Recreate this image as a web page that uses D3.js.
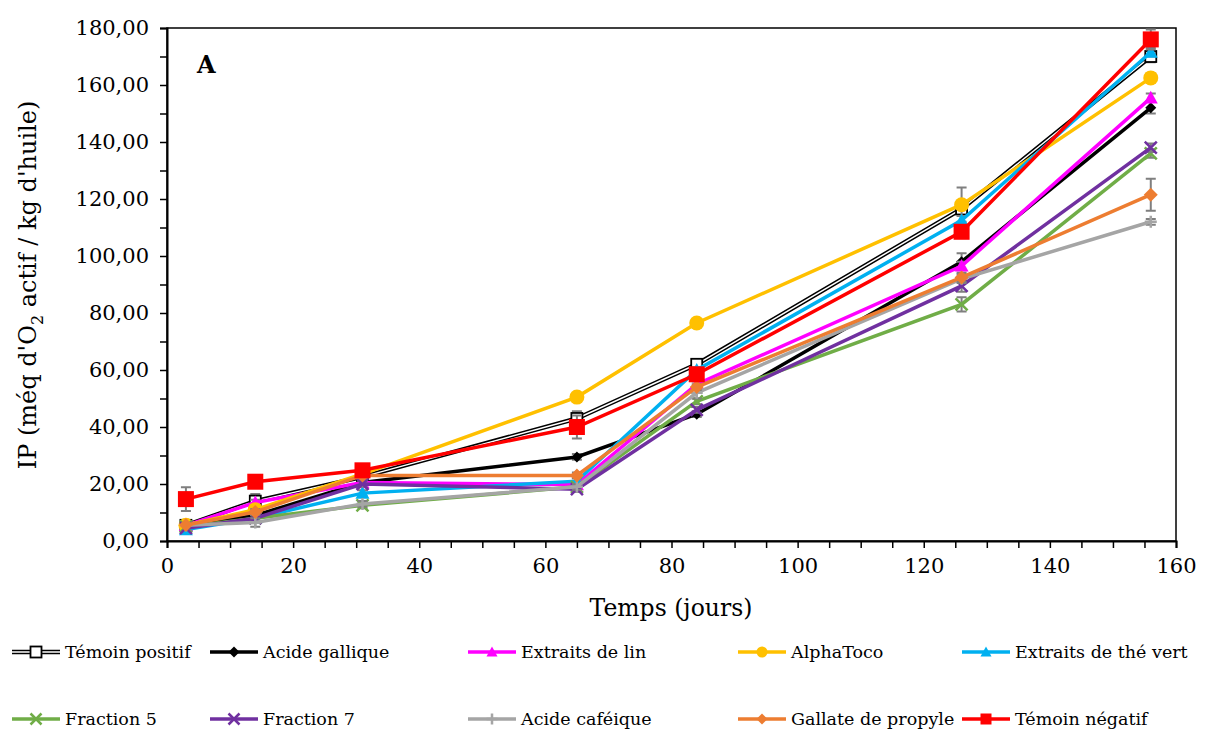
<!DOCTYPE html>
<html><head><meta charset="utf-8">
<script src="https://cdn.jsdelivr.net/npm/d3@7"></script>
<style>body{margin:0;background:#fff}svg{display:block}text{font-family:"DejaVu Serif",serif;fill:#000}</style>
</head><body>
<svg id="c" width="1216" height="731"></svg>
<script>
const days = [3, 14, 31, 65, 84, 126, 156];
const seriesNames = ["Témoin positif","Acide gallique","Extraits de lin","AlphaToco","Extraits de thé vert","Fraction 5","Fraction 7","Acide caféique","Gallate de propyle","Témoin négatif"];
const temoinPositif = [5.5, 14, 22.5, 43, 62, 116.5, 170];
const acideGallique = [5, 9, 20.5, 29.5, 44.5, 98, 152];
const extraitsLin = [5.5, 13.5, 20.5, 19.8, 55, 96.5, 155.5];
const alphaToco = [5.5, 11, 23.5, 50.5, 76.5, 118, 162.5];
const extraitsTheVert = [4, 8, 16.8, 21, 60, 112.5, 171.5];
const fraction5 = [5, 8, 12.5, 19, 49, 83, 136];
const fraction7 = [4.5, 8, 20, 18.2, 46, 89.5, 138];
const acideCafeique = [5.5, 6.5, 13, 19, 52, 92, 112];
const gallatePropyle = [5.6, 10.2, 23, 23, 54, 92.5, 121.5];
const temoinNegatif = [14.7, 20.8, 24.8, 40, 58.5, 108.5, 176];
const errPositif = [1, 2.5, 1.5, 2.5, 1.5, 1.5, 2];
const errGallique = [0.5, 1, 1, 1, 1, 3, 2];
const errLin = [0.5, 1, 1, 1, 1, 1.5, 1.5];
const errAlpha = [0.5, 1, 1, 1, 1, 6, 1.5];
const errThe = [0.5, 1, 1, 1, 1, 1.5, 1.5];
const errF5 = [0.5, 1, 1, 1, 1, 2.5, 1.5];
const errF7 = [0.5, 1, 1, 1, 1, 2, 1.5];
const errCafe = [0.5, 1.5, 1, 1, 2, 1.5, 1];
const errGallate = [0.5, 1, 1, 1, 1, 1.5, 5.6];
const errNegatif = [4.2, 1, 1, 4, 2, 2, 3.5];
const yTickValues = [0, 20, 40, 60, 80, 100, 120, 140, 160, 180];
const xTickValues = [0, 20, 40, 60, 80, 100, 120, 140, 160];

const values = [temoinPositif, acideGallique, extraitsLin, alphaToco, extraitsTheVert, fraction5, fraction7, acideCafeique, gallatePropyle, temoinNegatif];
const errs = [errPositif, errGallique, errLin, errAlpha, errThe, errF5, errF7, errCafe, errGallate, errNegatif];
const colors = ["#000000","#000000","#FF00FF","#FFC000","#00B0F0","#70AD47","#7030A0","#A5A5A5","#ED7D31","#FF0000"];
const markers = ["hsquare","diamond","triangle","circle","triangle","x","x","plus","diamond","square"];
const msize = [11, 11, 14, 15, 14, 12, 12, 12, 14, 16];

const svg = d3.select("#c");
const x = d3.scaleLinear().domain([0,160]).range([167,1176]);
const y = d3.scaleLinear().domain([0,180]).range([541,28]);
const loc = d3.formatLocale({decimal:",", thousands:" ", grouping:[3], currency:["",""]});
const fmt = loc.format(".2f");

// frame
svg.append("rect").attr("x",x(0)).attr("y",y(180)).attr("width",x(160)-x(0)).attr("height",y(0)-y(180))
  .attr("fill","none").attr("stroke","#000").attr("stroke-width",1.5);

// axes
const gy = svg.append("g").attr("transform",`translate(${x(0)},0)`)
  .call(d3.axisLeft(y).tickValues(d3.range(0,181,10)).tickSize(7).tickFormat(d=>yTickValues.includes(d)?fmt(d):""));
gy.selectAll("text").attr("font-size",21).attr("dx",-8).style("font-family","DejaVu Serif");
const gx = svg.append("g").attr("transform",`translate(0,${y(0)})`)
  .call(d3.axisBottom(x).tickValues(d3.range(0,161,5)).tickSize(7).tickFormat(d=>xTickValues.includes(d)?d:""));
gx.selectAll("text").attr("font-size",21).attr("dy","1.05em").style("font-family","DejaVu Serif");
[gx,gy].forEach(g=>{g.select(".domain").attr("stroke","#000").attr("stroke-width",2);g.selectAll(".tick line").attr("stroke","#000").attr("stroke-width",1.5);});

// titles
svg.append("text").attr("x",671).attr("y",616).attr("text-anchor","middle").attr("font-size",23.5).text("Temps (jours)");
const yt = svg.append("text").attr("transform","translate(36,285) rotate(-90)").attr("text-anchor","middle").attr("font-size",24);
yt.append("tspan").text("IP (méq d'O");
yt.append("tspan").attr("font-size",16).attr("dy",7).text("2");
yt.append("tspan").attr("dy",-7).text(" actif / kg d'huile)");
svg.append("text").attr("x",197).attr("y",73).attr("font-size",24).attr("font-weight","bold").text("A");

function drawMarker(g, type, s, color, cx, cy){
  const h = s/2;
  if(type==="square") g.append("rect").attr("x",cx-h).attr("y",cy-h).attr("width",s).attr("height",s).attr("fill",color);
  else if(type==="hsquare") g.append("rect").attr("x",cx-h).attr("y",cy-h).attr("width",s).attr("height",s).attr("fill","#fff").attr("stroke","#000").attr("stroke-width",1.8);
  else if(type==="circle") g.append("circle").attr("cx",cx).attr("cy",cy).attr("r",h).attr("fill",color);
  else if(type==="diamond") g.append("path").attr("d",`M${cx},${cy-h}L${cx+h},${cy}L${cx},${cy+h}L${cx-h},${cy}Z`).attr("fill",color);
  else if(type==="triangle") g.append("path").attr("d",`M${cx},${cy-h}L${cx+h},${cy+h*0.8}L${cx-h},${cy+h*0.8}Z`).attr("fill",color);
  else if(type==="x") g.append("path").attr("d",`M${cx-h},${cy-h}L${cx+h},${cy+h}M${cx-h},${cy+h}L${cx+h},${cy-h}`).attr("stroke",color).attr("stroke-width",2.5);
  else if(type==="plus") g.append("path").attr("d",`M${cx-h},${cy}L${cx+h},${cy}M${cx},${cy-h}L${cx},${cy+h}`).attr("stroke",color).attr("stroke-width",2.5);
}

const line = d3.line().x((d,i)=>x(days[i])).y(d=>y(d));
const plot = svg.append("g");
values.forEach((vals,si)=>{
  const g = plot.append("g");
  vals.forEach((v,i)=>{
    const e = errs[si][i];
    if(e<=0.6) return;
    const cx = x(days[i]);
    g.append("path").attr("d",`M${cx},${y(v-e)}L${cx},${y(v+e)}M${cx-5},${y(v-e)}L${cx+5},${y(v-e)}M${cx-5},${y(v+e)}L${cx+5},${y(v+e)}`)
      .attr("stroke","#7F7F7F").attr("stroke-width",2).attr("fill","none");
  });
  if(si===0){
    g.append("path").attr("d",line(vals)).attr("fill","none").attr("stroke","#000").attr("stroke-width",4.5);
    g.append("path").attr("d",line(vals)).attr("fill","none").attr("stroke","#fff").attr("stroke-width",1.5);
  } else {
    g.append("path").attr("d",line(vals)).attr("fill","none").attr("stroke",colors[si]).attr("stroke-width",3.5);
  }
  vals.forEach((v,i)=>drawMarker(g, markers[si], msize[si], colors[si], x(days[i]), y(v)));
});

// legend
const colX = [12, 210, 468, 738, 962];
const rowY = [652, 719];
seriesNames.forEach((name,si)=>{
  const r = Math.floor(si/5), c = si%5;
  const lx = colX[c], ly = rowY[r];
  const g = svg.append("g");
  if(si===0){
    g.append("line").attr("x1",lx).attr("x2",lx+48).attr("y1",ly).attr("y2",ly).attr("stroke","#000").attr("stroke-width",4.5);
    g.append("line").attr("x1",lx).attr("x2",lx+48).attr("y1",ly).attr("y2",ly).attr("stroke","#fff").attr("stroke-width",1.5);
  } else {
    g.append("line").attr("x1",lx).attr("x2",lx+48).attr("y1",ly).attr("y2",ly).attr("stroke",colors[si]).attr("stroke-width",3.5);
  }
  drawMarker(g, markers[si], Math.min(msize[si],11), colors[si], lx+24, ly);
  g.append("text").attr("x",lx+53).attr("y",ly+6).attr("font-size",17.5).text(name);
});
</script>
</body></html>
